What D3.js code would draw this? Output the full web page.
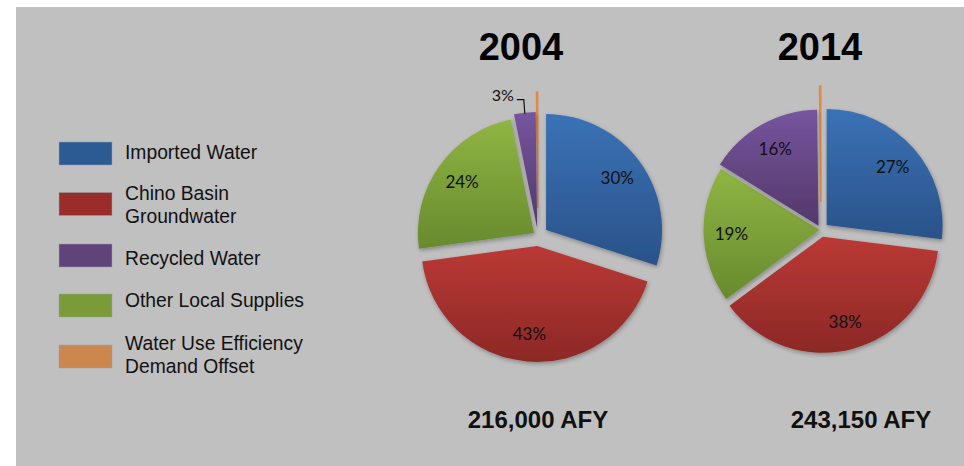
<!DOCTYPE html>
<html>
<head>
<meta charset="utf-8">
<script src="https://cdn.jsdelivr.net/npm/d3@7"></script>
<style>
  body { margin: 0; background: #fff; }
</style>
</head>
<body>
<div id="chart"></div>
<script>
// slices in the order the pies draw them, clockwise from 12 o'clock
const sliceNames = ["Imported Water", "Chino Basin Groundwater", "Other Local Supplies", "Recycled Water", "Water Use Efficiency Demand Offset"];
const values2004 = [30, 43, 24, 3, 0.2];
const values2014 = [27, 38, 19, 16, 0.2];
const years = ["2004", "2014"];
const totals = ["216,000 AFY", "243,150 AFY"];
// legend order
const legendNames = ["Imported Water", "Chino Basin Groundwater", "Recycled Water", "Other Local Supplies", "Water Use Efficiency Demand Offset"];
const legendLines = [["Imported Water"], ["Chino Basin", "Groundwater"], ["Recycled Water"], ["Other Local Supplies"], ["Water Use Efficiency", "Demand Offset"]];

var width = 964, height = 466;

var color = d3.scaleOrdinal()
    .domain(legendNames)
    .range(["#2c5a93", "#9a2d2a", "#5f4379", "#7b9b38", "#cc874e"]);
var topColor = d3.scaleOrdinal()
    .domain(legendNames)
    .range(["#3a72b6", "#ba3935", "#76559f", "#8fb543", "#e08a44"]);
var bottomColor = d3.scaleOrdinal()
    .domain(legendNames)
    .range(["#2a5289", "#8c2826", "#533869", "#688a2e", "#e08a44"]);

var svg = d3.select("#chart")
    .append("svg")
    .attr("width", width)
    .attr("height", height);

var defs = svg.append("defs");
legendNames.forEach(function (name, i) {
    var g = defs.append("linearGradient")
        .attr("id", "grad" + i)
        .attr("x1", 0).attr("y1", 0).attr("x2", 0).attr("y2", 1);
    g.append("stop").attr("offset", "0%").attr("stop-color", topColor(name));
    g.append("stop").attr("offset", "100%").attr("stop-color", bottomColor(name));
});
defs.append("filter")
    .attr("id", "shadow")
    .attr("x", "-20%").attr("y", "-20%").attr("width", "140%").attr("height", "140%")
    .append("feDropShadow")
    .attr("dx", 1).attr("dy", 2)
    .attr("stdDeviation", 2)
    .attr("flood-color", "#000")
    .attr("flood-opacity", 0.3);

// grey panel
svg.append("rect")
    .attr("x", 16).attr("y", 7)
    .attr("width", width - 16).attr("height", height - 7)
    .attr("fill", "#c0c0c0");

// Legend
var swatchY = [142, 192.5, 244, 294, 345];   // swatch tops
var textY = [158.5, 200, 265, 306.5, 350];    // first baseline of each label
var legend = svg.append("g").attr("transform", "translate(59,0)");
var items = legend.selectAll("g.item")
    .data(legendNames)
    .enter()
    .append("g")
    .attr("class", "item");
items.append("rect")
    .attr("y", function (d, i) { return swatchY[i]; })
    .attr("width", 53).attr("height", 23)
    .attr("fill", function (d) { return color(d); })
    .attr("stroke", "#9aa0a8").attr("stroke-width", 0.5);
items.append("text")
    .style("font-family", "'Liberation Sans', Arial, sans-serif")
    .style("font-size", "19.3px")
    .attr("fill", "#111")
    .each(function (d, i) {
        d3.select(this).selectAll("tspan")
            .data(legendLines[i])
            .enter()
            .append("tspan")
            .attr("x", 66)
            .attr("y", function (l, j) { return textY[i] + j * 22.7; })
            .text(function (l) { return l; });
    });

// Pies
var pieLayout = [
    { cx: 538, cy: 236, titleX: 521, totalX: 538, explode: [10, 10, 5, 8, 28], values: values2004 },
    { cx: 821, cy: 230, titleX: 820, totalX: 861, explode: [7.5, 7, 1.5, 5, 28], values: values2014 }
];
var r = 116;

var pie = d3.pie().sort(null).value(function (d) { return d; });
var arc = d3.arc().innerRadius(0).outerRadius(r);

pieLayout.forEach(function (p, k) {
    var g = svg.append("g").attr("transform", "translate(" + p.cx + "," + p.cy + ")");
    var arcs = pie(p.values);
    arcs.forEach(function (a, i) {
        a.name = sliceNames[i];
        a.mid = (a.startAngle + a.endAngle) / 2;
        a.dx = Math.sin(a.mid) * p.explode[i];
        a.dy = -Math.cos(a.mid) * p.explode[i];
    });

    // draw the tiny demand-offset slice first so it stays behind
    var order = [4, 0, 1, 2, 3];
    g.selectAll("path.slice")
        .data(order.map(function (i) { return arcs[i]; }))
        .enter()
        .append("path")
        .attr("class", "slice")
        .attr("transform", function (d) { return "translate(" + d.dx + "," + d.dy + ")"; })
        .attr("d", arc)
        .attr("fill", function (d) { return "url(#grad" + legendNames.indexOf(d.name) + ")"; })
        .attr("stroke", function (d) { return d.name === legendNames[4] ? "#e08a44" : "none"; })
        .attr("stroke-width", 1.3)
        .attr("filter", function (d) { return d.name === legendNames[4] ? null : "url(#shadow)"; });

    // Labels
    arcs.forEach(function (a, i) {
        if (a.data < 1) return;
        var txt = Math.round(a.data) + "%";
        if (a.data < 5) {
            var ex = a.dx + Math.sin(a.mid) * r, ey = a.dy - Math.cos(a.mid) * r;
            g.append("path")
                .attr("d", "M" + ex + "," + (ey + 1) + "L" + (ex - 1) + "," + (ey - 13) + "L" + (ex - 8) + "," + (ey - 13))
                .attr("fill", "none")
                .attr("stroke", "#111")
                .attr("stroke-width", 1.2);
            g.append("text")
                .attr("x", ex - 11)
                .attr("y", ey - 12)
                .attr("text-anchor", "end")
                .style("font-family", "Lato, 'Open Sans', sans-serif")
                .style("font-size", "16px")
                .attr("fill", "#111")
                .text(txt);
            return;
        }
        var lr = 0.76 * r;
        g.append("text")
            .attr("x", a.dx + Math.sin(a.mid) * lr)
            .attr("y", a.dy - Math.cos(a.mid) * lr + 6)
            .attr("text-anchor", "middle")
            .style("font-family", "Lato, 'Open Sans', sans-serif")
            .style("font-size", "17px")
            .attr("fill", "#111")
            .text(txt);
    });

    // Title
    svg.append("text")
        .attr("x", p.titleX)
        .attr("y", 60)
        .attr("text-anchor", "middle")
        .style("font-family", "'Liberation Sans', Arial, sans-serif")
        .style("font-weight", "bold")
        .style("font-size", "38px")
        .attr("fill", "#000")
        .text(years[k]);

    // Total
    svg.append("text")
        .attr("x", p.totalX)
        .attr("y", 428)
        .attr("text-anchor", "middle")
        .style("font-family", "'Liberation Sans', Arial, sans-serif")
        .style("font-weight", "bold")
        .style("font-size", "24px")
        .attr("fill", "#111")
        .text(totals[k]);
});
</script>
</body>
</html>
